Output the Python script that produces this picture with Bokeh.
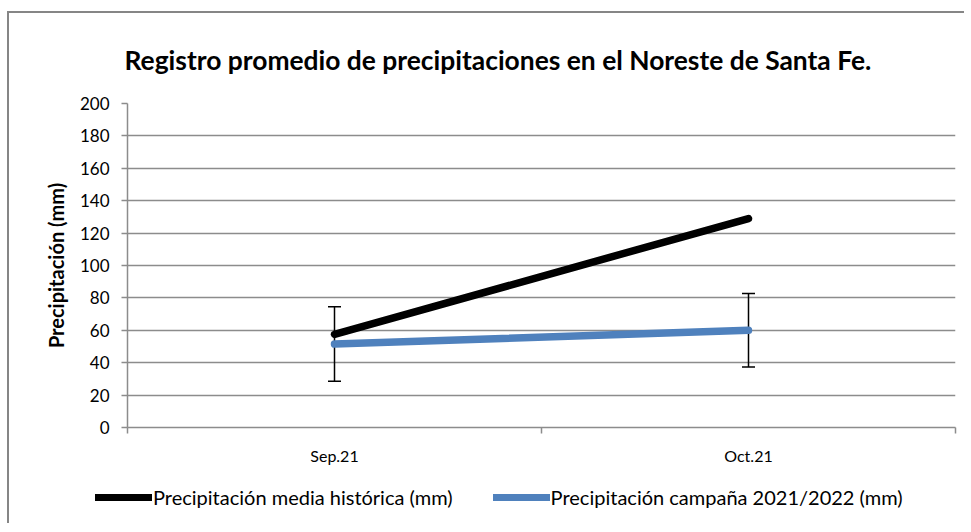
from bokeh.plotting import figure
from bokeh.models import (ColumnDataSource, FixedTicker, Whisker, TeeHead, Legend,
                          LegendItem, Range1d, Title)
from bokeh.layouts import column
from bokeh.embed import file_html
from bokeh.resources import INLINE

# ---- data ----
categories = ["Sep.21", "Oct.21"]
historica = [57.5, 129.0]
campana = [51.5, 60.0]
campana_err = [23.0, 22.7]
y_ticks = [0, 20, 40, 60, 80, 100, 120, 140, 160, 180, 200]

title_text = "Registro promedio de precipitaciones en el Noreste de Santa Fe."
y_label = "Precipitación (mm)"
name_hist = "Precipitación media histórica (mm)"
name_camp = "Precipitación campaña 2021/2022 (mm)"

FONT = "Lato"
GRID = "#8c8c8c"
HIST_COLOR = "black"
CAMP_COLOR = "#4f81bd"
W = 955

xpos = [i + 0.5 for i in range(len(categories))]
src = ColumnDataSource(dict(
    x=xpos, hist=historica, camp=campana,
    lo=[c - e for c, e in zip(campana, campana_err)],
    hi=[c + e for c, e in zip(campana, campana_err)],
))

p = figure(width=W, height=470, output_backend="svg", toolbar_location=None,
           x_range=Range1d(0, len(categories)), y_range=Range1d(0, 200),
           min_border_left=118, min_border_right=W - 118 - 828, min_border_top=87,
           min_border_bottom=56)
p.outline_line_color = None
p.frame_align = False

t = Title(text=title_text, align="left", offset=-3, text_font=FONT,
          text_font_size="26.4px", text_font_style="bold", text_color="black",
          standoff=56)
p.add_layout(t, "above")
p.title.visible = False

# axes
p.yaxis.ticker = FixedTicker(ticks=y_ticks)
p.yaxis.axis_label = y_label
p.yaxis.axis_label_text_font = FONT
p.yaxis.axis_label_text_font_style = "bold"
p.yaxis.axis_label_text_font_size = "20px"
p.yaxis.axis_label_text_color = "black"
p.yaxis.axis_label_standoff = 9
p.yaxis.major_label_text_font = FONT
p.yaxis.major_label_text_font_size = "17px"
p.yaxis.major_label_text_color = "black"
p.yaxis.major_label_standoff = 12
p.yaxis.major_tick_in = 0
p.yaxis.major_tick_out = 6
p.yaxis.minor_tick_line_color = None
p.yaxis.axis_line_color = GRID
p.yaxis.major_tick_line_color = GRID
p.yaxis.axis_line_width = 1.5
p.yaxis.major_tick_line_width = 1.5

p.xaxis.ticker = FixedTicker(ticks=xpos, minor_ticks=list(range(len(categories) + 1)))
p.xaxis.major_label_overrides = {x: c for x, c in zip(xpos, categories)}
p.xaxis.major_label_text_font = FONT
p.xaxis.major_label_text_font_size = "16px"
p.xaxis.major_label_text_color = "black"
p.xaxis.major_label_standoff = 12
p.xaxis.major_tick_line_color = None
p.xaxis.minor_tick_in = 0
p.xaxis.minor_tick_out = 6
p.xaxis.minor_tick_line_color = GRID
p.xaxis.minor_tick_line_width = 1.5
p.xaxis.axis_line_color = GRID
p.xaxis.axis_line_width = 1.5

p.xgrid.grid_line_color = None
p.ygrid.grid_line_color = GRID
p.ygrid.grid_line_width = 1.5

# series
p.line("x", "hist", source=src, line_color=HIST_COLOR, line_width=7.5,
       line_cap="round", line_join="round")
p.add_layout(Whisker(source=src, base="x", lower="lo", upper="hi",
                     line_color="black", line_width=1.5,
                     upper_head=TeeHead(size=13, line_color="black", line_width=1.5),
                     lower_head=TeeHead(size=13, line_color="black", line_width=1.5)))
p.line("x", "camp", source=src, line_color=CAMP_COLOR, line_width=7.5,
       line_cap="round", line_join="round")

# legend strip (separate figure under the chart)
LH = 40
q = figure(width=W, height=LH, output_backend="svg", toolbar_location=None,
           x_range=Range1d(0, W), y_range=Range1d(0, LH),
           min_border=0, min_border_left=0, min_border_right=0,
           min_border_top=0, min_border_bottom=0,
           x_axis_type=None, y_axis_type=None)
q.frame_align = False
q.outline_line_color = None
q.xgrid.visible = False
q.ygrid.visible = False
lh = q.line(x=[-20, -10], y=[-20, -20], line_color=HIST_COLOR, line_width=7,
            line_cap="round")
lc = q.line(x=[-20, -10], y=[-20, -20], line_color=CAMP_COLOR, line_width=7,
            line_cap="round")
legend = Legend(items=[LegendItem(label=name_hist, renderers=[lh]),
                       LegendItem(label=name_camp, renderers=[lc])],
                orientation="horizontal", location=(86, 14),
                glyph_width=57, glyph_height=20, label_standoff=1, spacing=40,
                padding=0, margin=0, border_line_color=None,
                background_fill_alpha=0, label_text_font=FONT,
                label_text_font_size="20px", label_text_color="black")
q.add_layout(legend, "center")

lay = column(p, q, spacing=0)
lay.styles = {"border-left": "2px solid #868686", "border-top": "2px solid #868686",
              "margin-left": "7px", "margin-top": "11px"}

open("out.html", "w").write(file_html(lay, INLINE))
